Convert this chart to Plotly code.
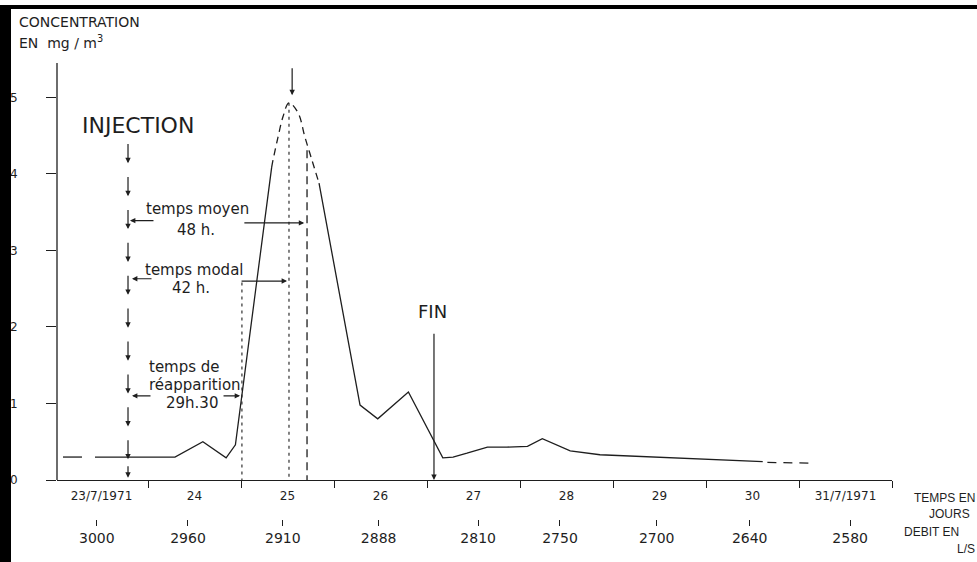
import plotly.graph_objects as go

# ---------------- data ----------------
# time axis in days since 23/7/1971 00h
day_labels = ["23/7/1971", "24", "25", "26", "27", "28", "29", "30", "31/7/1971"]
day_bounds = [1, 2, 3, 4, 5, 6, 7, 8, 9]
debit_labels = ["3000", "2960", "2910", "2888", "2810", "2750", "2700", "2640", "2580"]
debit_days = [0.45, 1.43, 2.45, 3.48, 4.55, 5.43, 6.47, 7.47, 8.55]

pre_days = [0.086, 0.29]
pre_conc = [0.30, 0.30]

rise_days = [0.43, 1.29, 1.59, 1.84, 1.94, 2.33]
rise_conc = [0.30, 0.30, 0.50, 0.29, 0.46, 4.09]

peak_days = [2.33, 2.344, 2.398, 2.452, 2.516, 2.613, 2.688, 2.763, 2.839]
peak_conc = [4.09, 4.18, 4.48, 4.75, 4.93, 4.80, 4.48, 4.18, 3.88]

fall_days = [2.839, 3.28, 3.47, 3.80, 4.17, 4.28, 4.43, 4.65, 4.86, 5.08, 5.24, 5.54, 5.86, 6.72, 7.61]
fall_conc = [3.88, 0.98, 0.80, 1.15, 0.29, 0.30, 0.35, 0.43, 0.43, 0.44, 0.54, 0.38, 0.33, 0.29, 0.24]

tail_days = [7.66, 8.15]
tail_conc = [0.23, 0.22]

conc_ticks = [0, 1, 2, 3, 4, 5]

t_injection = 0.785
t_reapparition = 2.01
t_modal = 2.516
t_moyen = 2.71
t_fin = 4.075
c_peak = 4.93

# ---------------- layout constants ----------------
W, H = 977, 562
L, R, T, B = 57, 85, 63, 43
PW, PH = W - L - R, H - T - B
INK = "#1e1e1e"
FONT = "DejaVu Sans"


def pxx(px):
    return (px - L) / PW


def pxy(py):
    return (H - B - py) / PH


fig = go.Figure()

line = dict(color=INK, width=1.3)
fig.add_trace(go.Scatter(x=pre_days, y=pre_conc, mode="lines", line=line, hoverinfo="skip"))
fig.add_trace(go.Scatter(x=rise_days, y=rise_conc, mode="lines", line=line, hoverinfo="skip"))
fig.add_trace(go.Scatter(x=peak_days, y=peak_conc, mode="lines",
                         line=dict(color=INK, width=1.3, dash="7px,5px", shape="spline"),
                         hoverinfo="skip"))
fig.add_trace(go.Scatter(x=fall_days, y=fall_conc, mode="lines", line=line, hoverinfo="skip"))
fig.add_trace(go.Scatter(x=tail_days, y=tail_conc, mode="lines",
                         line=dict(color=INK, width=1.3, dash="9px,7px"), hoverinfo="skip"))
# carrier trace for the discharge axis
fig.add_trace(go.Scatter(x=debit_days, y=[0] * len(debit_days), xaxis="x2", mode="markers",
                         marker=dict(opacity=0), hoverinfo="skip"))

# vertical reference lines
shapes = [
    dict(type="line", xref="x", yref="y", x0=t_modal, x1=t_modal, y0=c_peak, y1=0,
         line=dict(color=INK, width=1.1, dash="3px,4px")),
    dict(type="line", xref="x", yref="y", x0=t_moyen, x1=t_moyen, y0=4.31, y1=0,
         line=dict(color=INK, width=1.3, dash="8px,5px")),
    dict(type="line", xref="x", yref="y", x0=t_reapparition, x1=t_reapparition, y0=2.58, y1=0,
         line=dict(color=INK, width=1.1, dash="3px,4px")),
    # concentration axis line
    dict(type="line", xref="paper", yref="paper", x0=0, x1=0, y0=pxy(480), y1=1,
         line=dict(color=INK, width=1.3), layer="above"),
    # scan frame
    dict(type="rect", xref="paper", yref="paper", x0=pxx(0), x1=pxx(11), y0=pxy(H), y1=pxy(5),
         fillcolor="black", line=dict(width=0), layer="above"),
    dict(type="rect", xref="paper", yref="paper", x0=pxx(6), x1=pxx(W), y0=pxy(9), y1=pxy(5),
         fillcolor="black", line=dict(width=0), layer="above"),
]

ann = []


def arrow(x, y, ax, ay, width=1.2):
    ann.append(dict(x=x, y=y, ax=ax, ay=ay, xref="x", yref="y", axref="x", ayref="y",
                    text="", showarrow=True, arrowhead=2, arrowsize=0.9, arrowwidth=width,
                    arrowcolor=INK, standoff=0, startstandoff=0))


def label(x, y, text, size, xanchor="center", xref="x", yref="y", family=FONT):
    ann.append(dict(x=x, y=y, xref=xref, yref=yref, text=text, showarrow=False,
                    xanchor=xanchor, yanchor="middle",
                    font=dict(family=family, size=size, color=INK)))


# injection column of arrows
for k in range(10):
    head = 4.14 - 0.43 * k
    arrow(t_injection, head, t_injection, head + 0.27)
arrow(t_injection, 0.03, t_injection, 0.20)

# peak arrow and FIN arrow
arrow(2.55, 5.03, 2.55, 5.40)
arrow(t_fin, 0.0, t_fin, 1.93)

# time-span arrows
arrow(0.806, 3.39, 1.075, 3.39)
arrow(2.68, 3.36, 2.02, 3.36)
arrow(0.828, 2.63, 1.054, 2.63)
arrow(2.495, 2.60, 1.99, 2.60)
arrow(0.828, 1.10, 1.043, 1.10)
arrow(1.99, 1.10, 1.796, 1.10)

label(0.89, 4.63, "INJECTION", 22)
label(1.527, 3.54, "temps moyen", 15)
label(1.516, 3.27, "48 h.", 15)
label(1.50, 2.745, "temps modal", 15)
label(1.462, 2.51, "42 h.", 15)
label(0.989, 1.477, "temps de", 15, xanchor="left")
label(0.989, 1.24, "réapparition", 15, xanchor="left")
label(1.473, 1.006, "29h.30", 15)
label(4.054, 2.196, "FIN", 18)

label(pxx(17), pxy(22), "CONCENTRATION", 14, xanchor="left", xref="paper", yref="paper")
label(pxx(17), pxy(42), "EN  mg / m<sup>3</sup>", 14, xanchor="left", xref="paper", yref="paper")
SANS = "Liberation Sans"
label(pxx(912), pxy(498), "TEMPS EN", 12, xanchor="left", xref="paper", yref="paper", family=SANS)
label(pxx(927), pxy(514), "JOURS", 12, xanchor="left", xref="paper", yref="paper", family=SANS)
label(pxx(902), pxy(532), "DEBIT EN", 12, xanchor="left", xref="paper", yref="paper", family=SANS)
label(pxx(955), pxy(549), "L/S", 12, xanchor="left", xref="paper", yref="paper", family=SANS)

x_range = [(L - 55) / 93, 9.0]

fig.update_layout(
    width=W, height=H,
    margin=dict(l=L, r=R, t=T, b=B, pad=0, autoexpand=False),
    paper_bgcolor="white", plot_bgcolor="white",
    showlegend=False,
    shapes=shapes,
    annotations=ann,
    xaxis=dict(
        range=x_range, anchor="y", showgrid=False, zeroline=False,
        showline=True, linecolor=INK, linewidth=1.3,
        tickmode="array", tickvals=[i + 0.5 for i in range(len(day_labels))], ticktext=day_labels,
        ticks="", ticklabelstandoff=4,
        minor=dict(tickmode="array", tickvals=day_bounds, ticks="outside", ticklen=7,
                   tickwidth=1.3, tickcolor=INK, showgrid=False),
        tickfont=dict(family=FONT, size=12, color=INK),
    ),
    xaxis2=dict(
        range=x_range, overlaying="x", anchor="free", position=0, side="bottom",
        showgrid=False, zeroline=False, showline=False,
        tickmode="array", tickvals=debit_days, ticktext=debit_labels,
        ticks="outside", ticklen=6, tickwidth=1.2, tickcolor=INK, ticklabelstandoff=0,
        tickfont=dict(family=FONT, size=14, color=INK),
    ),
    yaxis=dict(
        domain=[pxy(480), 1], range=[0, 5.45], showgrid=False, zeroline=False,
        showline=False,
        tickmode="array", tickvals=conc_ticks,
        ticks="outside", ticklen=10, tickwidth=1.2, tickcolor=INK, ticklabelstandoff=26,
        tickfont=dict(family=FONT, size=12, color=INK),
    ),
)

fig.write_html("out.html", config={"displayModeBar": False},
               post_script="document.body.style.margin='0';document.body.style.overflow='hidden';")
